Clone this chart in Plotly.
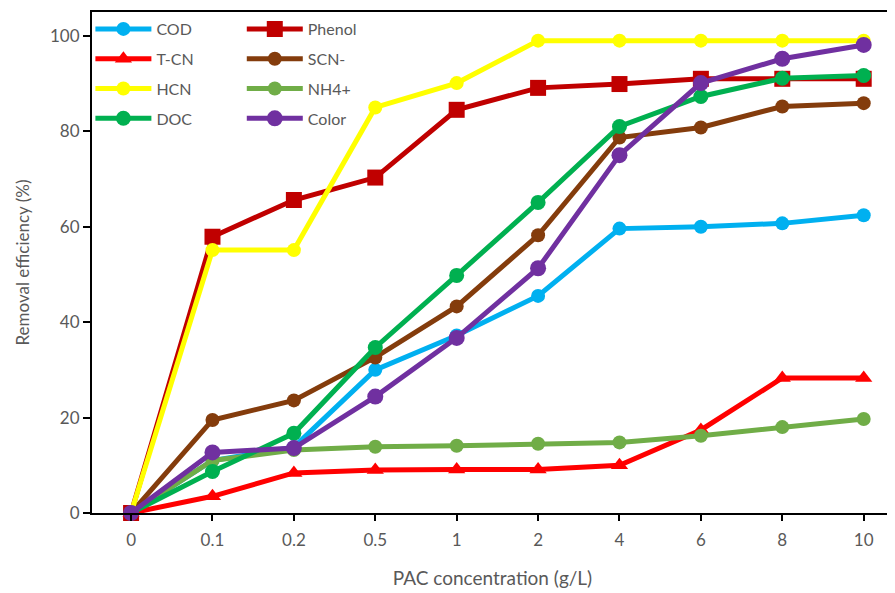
import plotly.graph_objects as go

categories = ["0", "0.1", "0.2", "0.5", "1", "2", "4", "6", "8", "10"]

cod    = [0, 11.0, 13.8, 30.0, 37.2, 45.5, 59.6, 60.0, 60.7, 62.4]
phenol = [0, 57.9, 65.6, 70.3, 84.5, 89.1, 89.9, 91.0, 91.0, 91.0]
tcn    = [0, 3.5, 8.4, 9.0, 9.1, 9.1, 10.0, 17.4, 28.3, 28.3]
scn    = [0, 19.5, 23.6, 32.6, 43.3, 58.2, 78.7, 80.8, 85.2, 85.9]
hcn    = [0, 55.1, 55.1, 85.0, 90.1, 99.0, 99.0, 99.0, 99.0, 99.0]
nh4    = [0, 11.0, 13.2, 13.9, 14.1, 14.5, 14.8, 16.2, 18.0, 19.7]
doc    = [0, 8.7, 16.7, 34.7, 49.8, 65.1, 81.0, 87.3, 91.1, 91.7]
color  = [0, 12.7, 13.6, 24.4, 36.7, 51.3, 75.0, 90.1, 95.2, 98.1]

series = [
    ("COD", cod, "#00B0F0", "circle", 14, "legend"),
    ("Phenol", phenol, "#C00000", "square", 16, "legend2"),
    ("T-CN", tcn, "#FF0000", "triangle-up", 15, "legend"),
    ("SCN-", scn, "#843C0C", "circle", 14, "legend2"),
    ("HCN", hcn, "#FFFF00", "circle", 14, "legend"),
    ("NH4+", nh4, "#70AD47", "circle", 14, "legend2"),
    ("DOC", doc, "#00B050", "circle", 15, "legend"),
    ("Color", color, "#7030A0", "circle", 16, "legend2"),
]

fig = go.Figure()
for name, vals, col, sym, size, lg in series:
    fig.add_trace(go.Scatter(
        x=categories, y=vals, name=name, mode="lines+markers",
        line=dict(color=col, width=5),
        marker=dict(color=col, symbol=sym, size=size),
        cliponaxis=False, legend=lg, legendgroup=name,
    ))

font_family = "Lato, 'Open Sans', sans-serif"
gray = "#595959"

legend_common = dict(
    font=dict(family=font_family, size=16, color=gray),
    bgcolor="rgba(0,0,0,0)", borderwidth=0,
    tracegroupgap=6, itemwidth=56,
    xanchor="left", yanchor="top", y=1.0,
)

fig.update_layout(
    width=887, height=585,
    margin=dict(l=84, r=2, t=4, b=80, autoexpand=False),
    paper_bgcolor="white", plot_bgcolor="white",
    font=dict(family=font_family, color=gray),
    legend=dict(x=-0.002, **legend_common),
    legend2=dict(x=0.187, **legend_common),
    xaxis=dict(
        type="category", range=[-0.48, 9.36],
        showline=True, linecolor="black", linewidth=2, mirror=True,
        ticks="outside", ticklen=6, tickcolor="black", tickwidth=1.5,
        showgrid=False, zeroline=False, automargin=False,
        ticklabelstandoff=5,
        tickfont=dict(size=17, color=gray, family=font_family),
        title=dict(text="PAC concentration (g/L)", font=dict(size=19, color=gray, family=font_family), standoff=22),
    ),
    yaxis=dict(
        range=[0, 105], tickvals=[0, 20, 40, 60, 80, 100],
        showline=True, linecolor="black", linewidth=2, mirror=False,
        ticks="outside", ticklen=7, tickcolor="black", tickwidth=1.5,
        showgrid=False, zeroline=False, automargin=False,
        tickfont=dict(size=17, color=gray, family=font_family),
        title=dict(text="Removal efficiency (%)", font=dict(size=17, color=gray, family=font_family), standoff=16),
    ),
)

fig.write_html("out.html")
